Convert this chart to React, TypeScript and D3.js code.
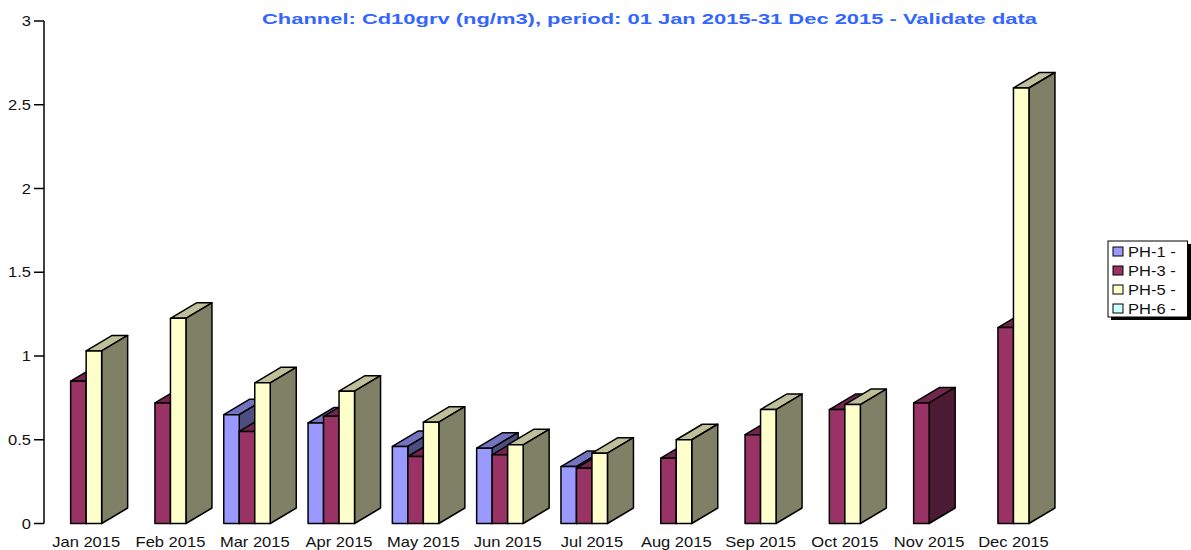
import * as d3 from 'd3';

const months = ['Jan 2015', 'Feb 2015', 'Mar 2015', 'Apr 2015', 'May 2015', 'Jun 2015', 'Jul 2015', 'Aug 2015', 'Sep 2015', 'Oct 2015', 'Nov 2015', 'Dec 2015'];
const seriesNames = ['PH-1 -', 'PH-3 -', 'PH-5 -', 'PH-6 -'];
const seriesColors = ['#9999ff', '#993366', '#ffffcc', '#ccffff'];

const ph1 = [null, null, 0.65, 0.6, 0.46, 0.45, 0.34, null, null, null, null, null];
const ph3 = [0.85, 0.72, 0.55, 0.64, 0.4, 0.41, 0.33, 0.39, 0.53, 0.68, 0.72, 1.17];
const ph5 = [1.03, 1.225, 0.84, 0.79, 0.605, 0.47, 0.42, 0.5, 0.68, 0.71, null, 2.6];
const ph6: (number | null)[] = [null, null, null, null, null, null, null, null, null, null, null, null];
const seriesValues = [ph1, ph3, ph5, ph6];

const yTicks = [0, 0.5, 1, 1.5, 2, 2.5, 3];
const title = 'Channel: Cd10grv (ng/m3), period: 01 Jan 2015-31 Dec 2015 - Validate data';

const depthX = 26;
const depthY = 15.5;
const font = '"Liberation Sans", Arial, sans-serif';
// the reference text is stretched sideways
const stretch = 'scale(1.18,1)';

const y = d3.scaleLinear().domain([0, 3]).range([523.5, 21]);
// month centres run 84.3px apart, first one at 86
const x = d3.scaleBand<string>().domain(months).range([44, 44 + 84.3 * 12]);
const inner = d3.scaleBand<number>().domain([0, 1, 2, 3]).range([-31, 31]);

const shade = (c: string, k: number) => {
  const { r, g, b } = d3.rgb(c);
  return d3.rgb(r * k, g * k, b * k).formatHex();
};

const Bar = ({ left, w, value, color }: { left: number; w: number; value: number; color: string }) => {
  const top = y(value);
  const bottom = y(0);
  const right = left + w;
  const line = d3.line();
  const topFace = line([[left, top], [left + depthX, top - depthY], [right + depthX, top - depthY], [right, top]]) + 'Z';
  const sideFace = line([[right, top], [right + depthX, top - depthY], [right + depthX, bottom - depthY], [right, bottom]]) + 'Z';
  return (
    <g stroke="#000" strokeWidth={1.5} strokeLinejoin="round">
      <path d={topFace} fill={shade(color, 0.75)} />
      <path d={sideFace} fill={shade(color, 0.5)} />
      <rect x={left} y={top} width={w} height={bottom - top} fill={color} />
    </g>
  );
};

export default function App() {
  return (
    <svg width={1191} height={550} style={{ position: 'absolute', left: 0, top: 0, background: '#fff' }}>
      <text x={262} y={24} fontFamily={font} fontWeight="bold" fontSize={15} fill="#3366ff" textLength={775} lengthAdjust="spacingAndGlyphs">
        {title}
      </text>

      {/* left to right, so later bars cover the side of earlier ones */}
      {months.map((m, i) => (
        <g key={m}>
          {seriesValues.map((vals, s) => {
            const v = vals[i];
            if (v == null) return null;
            const cx = x(m)! + x.bandwidth() / 2;
            return <Bar key={s} left={cx + inner(s)!} w={inner.bandwidth()} value={v} color={seriesColors[s]} />;
          })}
        </g>
      ))}

      <line x1={44} x2={44} y1={y(3)} y2={y(0)} stroke="#000" strokeWidth={1.5} />
      {yTicks.map((t) => (
        <g key={t}>
          <line x1={34} x2={44} y1={y(t)} y2={y(t)} stroke="#000" strokeWidth={1.5} />
          <text transform={`translate(31,${y(t) + 5}) ${stretch}`} textAnchor="end" fontFamily={font} fontSize={14} fill="#111">{t}</text>
        </g>
      ))}

      {months.map((m) => (
        <text key={m} transform={`translate(${x(m)! + x.bandwidth() / 2},547) ${stretch}`} textAnchor="middle" fontFamily={font} fontSize={14} fill="#111">
          {m}
        </text>
      ))}

      <rect x={1111} y={244} width={80} height={76} fill="#000" />
      <rect x={1108} y={241} width={79.5} height={76} fill="#fff" stroke="#000" strokeWidth={1} />
      {seriesNames.map((name, i) => (
        <g key={name}>
          <rect x={1113} y={247 + i * 19} width={10} height={9} fill={seriesColors[i]} stroke="#000" strokeWidth={1} />
          <text transform={`translate(1128,${256.5 + i * 19}) ${stretch}`} fontFamily={font} fontSize={14} fill="#111">{name}</text>
        </g>
      ))}
    </svg>
  );
}
